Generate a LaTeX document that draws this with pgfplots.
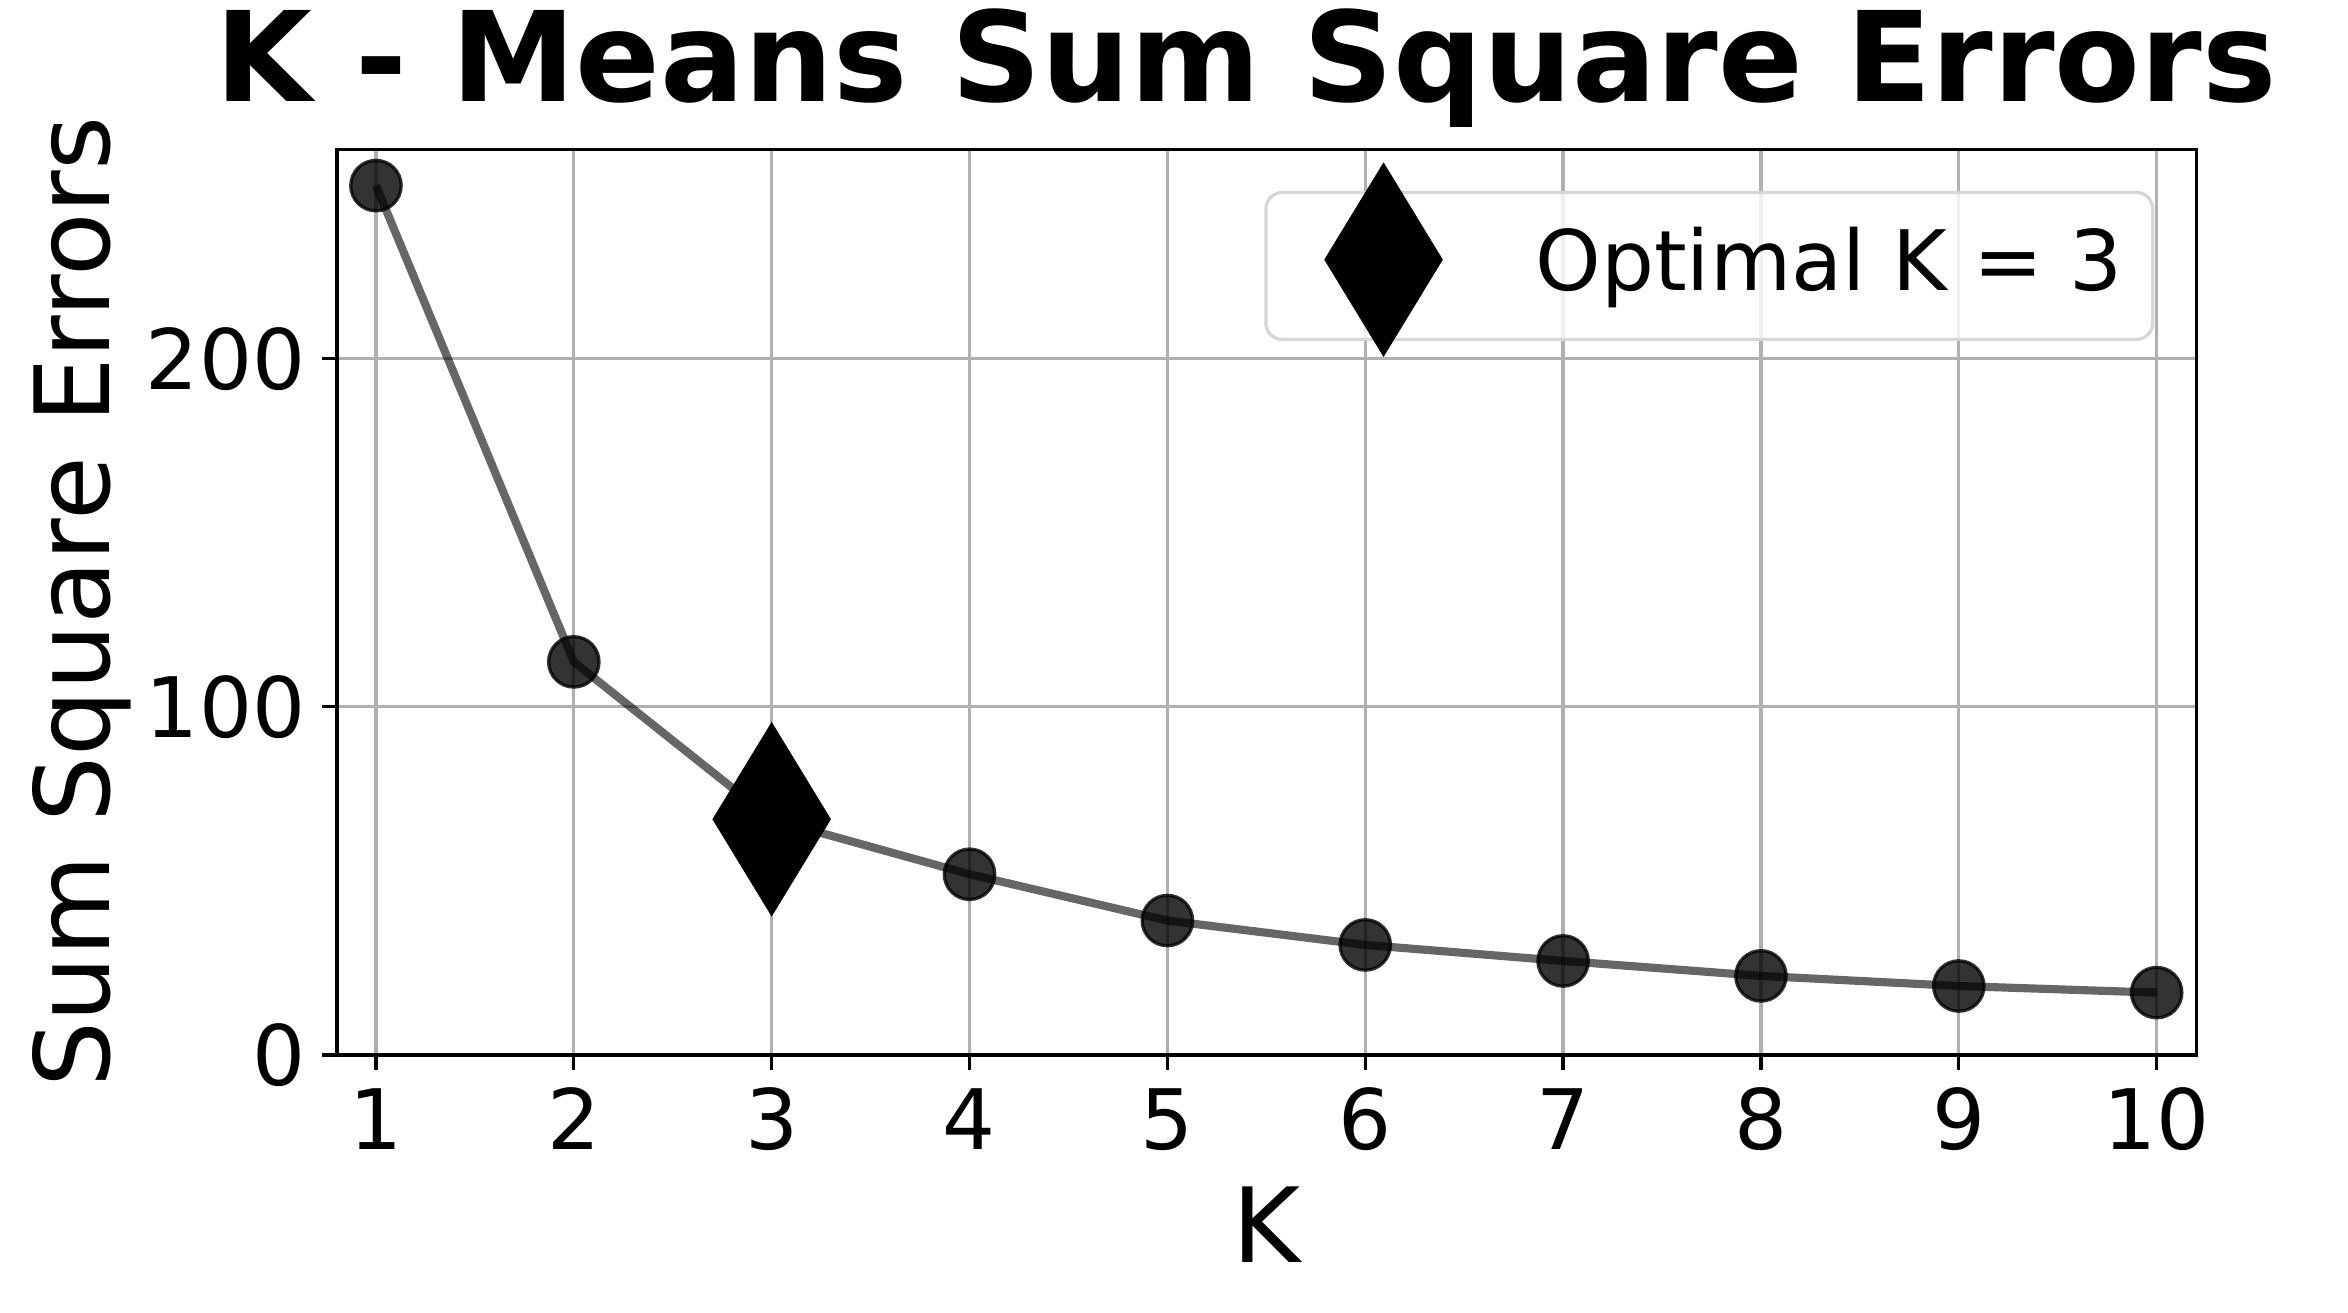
\documentclass[border=0pt]{standalone}
\usepackage{fontspec}
\setmainfont{DejaVu Sans}
\usepackage{pgfplots}
\pgfplotsset{compat=1.18}

\definecolor{gridgray}{HTML}{B0B0B0}
\definecolor{legendedge}{HTML}{D6D6D6}

\begin{document}
\begin{tikzpicture}
\useasboundingbox (-82.8pt,-63.4pt) rectangle (494.1pt,259.2pt);
\begin{axis}[
    width=456.8pt, height=222.4pt,
    scale only axis,
    xmin=0.803, xmax=10.2,
    ymin=0, ymax=260,
    xtick={1,...,10},
    ytick={0,100,200},
    clip=false,
    tick pos=left,
    tick align=outside,
    major tick length=3.7pt,
    every tick/.style={black, line width=0.8pt},
    axis line style={black, line width=0.8pt},
    grid=major,
    grid style={gridgray, line width=0.8pt},
    /pgf/number format/assume math mode=true,
    ticklabel style={font=\fontsize{20.5}{24}\selectfont},
    xticklabel style={anchor=base, inner sep=0pt, yshift=-19.6pt},
    yticklabel style={anchor=east, inner sep=0pt, xshift=-3.9pt},
    title={K - Means Sum Square Errors},
    title style={at={([xshift=-5pt,yshift=5.9pt]axis description cs:0.5,1)},
        anchor=base, font=\bfseries\fontsize{30.7}{36}\selectfont},
    xlabel={K},
    xlabel style={at={([yshift=-50.9pt]axis description cs:0.5,0)},
        anchor=base, font=\fontsize{25.5}{30}\selectfont},
    ylabel={Sum Square Errors},
    ylabel style={at={([xshift=-56pt]axis description cs:0,0.5)},
        anchor=base, rotate=0, font=\fontsize{25.5}{30}\selectfont},
    legend style={at={([xshift=-10.3pt,yshift=-10.1pt]axis description cs:1,1)},
        anchor=north east, inner xsep=0pt, inner ysep=0pt, column sep=0pt,
        draw=legendedge, line width=0.8pt, rounded corners=4pt,
        fill=white, fill opacity=0.8, text opacity=1,
        cells={anchor=base west},
        nodes={inner sep=0pt, text depth=0pt, draw=none, fill=none},
        font=\fontsize{20.5}{24}\selectfont},
]

% elbow curve
\addplot[forget plot, black, draw opacity=0.6, line width=2pt,
    mark=*, mark size=6.2pt,
    mark options={fill=black, fill opacity=0.8, draw=black, draw opacity=0.8, line width=0.8pt}]
coordinates {
    (1, 249.7)
    (2, 112.9)
    (3, 67.7)
    (4, 51.9)
    (5, 38.6)
    (6, 31.6)
    (7, 27.0)
    (8, 22.7)
    (9, 19.8)
    (10, 17.9)
};

% chosen K
\addplot[only marks, mark=diamond*, mark size=23.8pt,
    mark options={xscale=0.812, fill=black, draw=black, line width=0.1pt},
    legend image code/.code={
        \path[draw=none, fill=none] (0pt,-12.1pt) rectangle (66.25pt,24pt);
        \begin{scope}[overlay]
        \draw[only marks, mark=diamond*, mark size=23.8pt, fill opacity=1, draw opacity=1,
            mark options={xscale=0.812, fill=black, draw=black, line width=0.1pt}]
            plot coordinates {(28.9pt,7.5pt)};
        \end{scope}
    }]
coordinates {(3, 67.7)};
\addlegendentry{Optimal K = 3\hspace*{7.3pt}}

\end{axis}
\end{tikzpicture}
\end{document}
